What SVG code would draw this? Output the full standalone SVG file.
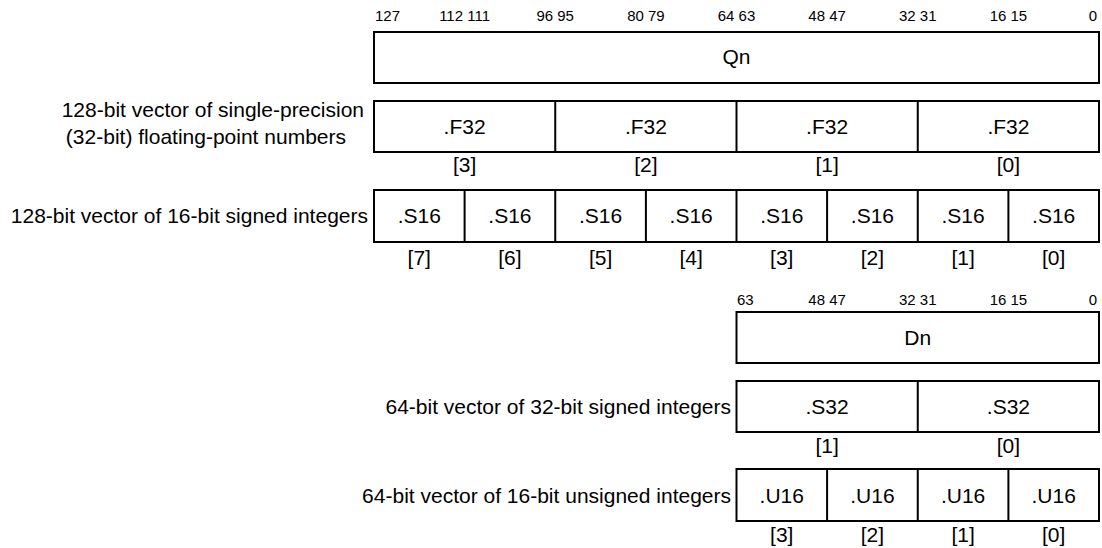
<svg xmlns="http://www.w3.org/2000/svg" width="1102" height="548" viewBox="0 0 1102 548">
<style>
.box{fill:#fff;stroke:#000;stroke-width:2}
.div{stroke:#000;stroke-width:2}
.t{font-family:"Liberation Sans",Arial,sans-serif;font-size:21px;fill:#000}
.c{text-anchor:middle}
.e{text-anchor:end}
.b{font-family:"Liberation Sans",Arial,sans-serif;font-size:15px;fill:#000}
</style>
<rect width="1102" height="548" fill="#fff"/>
<g id="qn-bits" class="b">
<text x="375" y="21">127</text>
<text x="464.6" y="21" class="c">112 111</text>
<text x="555.2" y="21" class="c">96 95</text>
<text x="645.9" y="21" class="c">80 79</text>
<text x="736.5" y="21" class="c">64 63</text>
<text x="827.1" y="21" class="c">48 47</text>
<text x="917.8" y="21" class="c">32 31</text>
<text x="1008.4" y="21" class="c">16 15</text>
<text x="1097" y="21" class="e">0</text>
</g>
<g id="qn">
<rect class="box" x="374" y="32" width="725" height="51"/>
<text class="t c" x="736.5" y="64">Qn</text>
</g>
<g id="f32">
<text class="t e" x="364" y="117">128-bit vector of single-precision</text>
<text class="t e" x="346" y="144">(32-bit) floating-point numbers</text>
<rect class="box" x="374" y="101" width="725" height="51"/>
<line class="div" x1="555.25" y1="101" x2="555.25" y2="152"/>
<line class="div" x1="736.5" y1="101" x2="736.5" y2="152"/>
<line class="div" x1="917.75" y1="101" x2="917.75" y2="152"/>
<g class="t c">
<text x="464.6" y="134">.F32</text>
<text x="645.9" y="134">.F32</text>
<text x="827.1" y="134">.F32</text>
<text x="1008.4" y="134">.F32</text>
<text x="464.6" y="172">[3]</text>
<text x="645.9" y="172">[2]</text>
<text x="827.1" y="172">[1]</text>
<text x="1008.4" y="172">[0]</text>
</g>
</g>
<g id="s16">
<text class="t e" x="368" y="223">128-bit vector of 16-bit signed integers</text>
<rect class="box" x="374" y="190" width="725" height="52"/>
<path class="div" d="M464.6 190V242M555.25 190V242M645.9 190V242M736.5 190V242M827.1 190V242M917.75 190V242M1008.4 190V242"/>
<g class="t c">
<text x="419.3" y="223">.S16</text>
<text x="509.9" y="223">.S16</text>
<text x="600.6" y="223">.S16</text>
<text x="691.2" y="223">.S16</text>
<text x="781.8" y="223">.S16</text>
<text x="872.4" y="223">.S16</text>
<text x="963.1" y="223">.S16</text>
<text x="1053.7" y="223">.S16</text>
<text x="419.3" y="265">[7]</text>
<text x="509.9" y="265">[6]</text>
<text x="600.6" y="265">[5]</text>
<text x="691.2" y="265">[4]</text>
<text x="781.8" y="265">[3]</text>
<text x="872.4" y="265">[2]</text>
<text x="963.1" y="265">[1]</text>
<text x="1053.7" y="265">[0]</text>
</g>
</g>
<g id="dn-bits" class="b">
<text x="737" y="305">63</text>
<text x="827.1" y="305" class="c">48 47</text>
<text x="917.8" y="305" class="c">32 31</text>
<text x="1008.4" y="305" class="c">16 15</text>
<text x="1097" y="305" class="e">0</text>
</g>
<g id="dn">
<rect class="box" x="736.5" y="312" width="362.5" height="51"/>
<text class="t c" x="917.75" y="345">Dn</text>
</g>
<g id="s32">
<text class="t e" x="731" y="414">64-bit vector of 32-bit signed integers</text>
<rect class="box" x="736.5" y="381" width="362.5" height="51"/>
<line class="div" x1="917.75" y1="381" x2="917.75" y2="432"/>
<g class="t c">
<text x="827.1" y="414">.S32</text>
<text x="1008.4" y="414">.S32</text>
<text x="827.1" y="453">[1]</text>
<text x="1008.4" y="453">[0]</text>
</g>
</g>
<g id="u16">
<text class="t e" x="731" y="503">64-bit vector of 16-bit unsigned integers</text>
<rect class="box" x="736.5" y="469" width="362.5" height="52"/>
<path class="div" d="M827.1 469V521M917.75 469V521M1008.4 469V521"/>
<g class="t c">
<text x="781.8" y="503">.U16</text>
<text x="872.4" y="503">.U16</text>
<text x="963.1" y="503">.U16</text>
<text x="1053.7" y="503">.U16</text>
<text x="781.8" y="542">[3]</text>
<text x="872.4" y="542">[2]</text>
<text x="963.1" y="542">[1]</text>
<text x="1053.7" y="542">[0]</text>
</g>
</g>
</svg>
